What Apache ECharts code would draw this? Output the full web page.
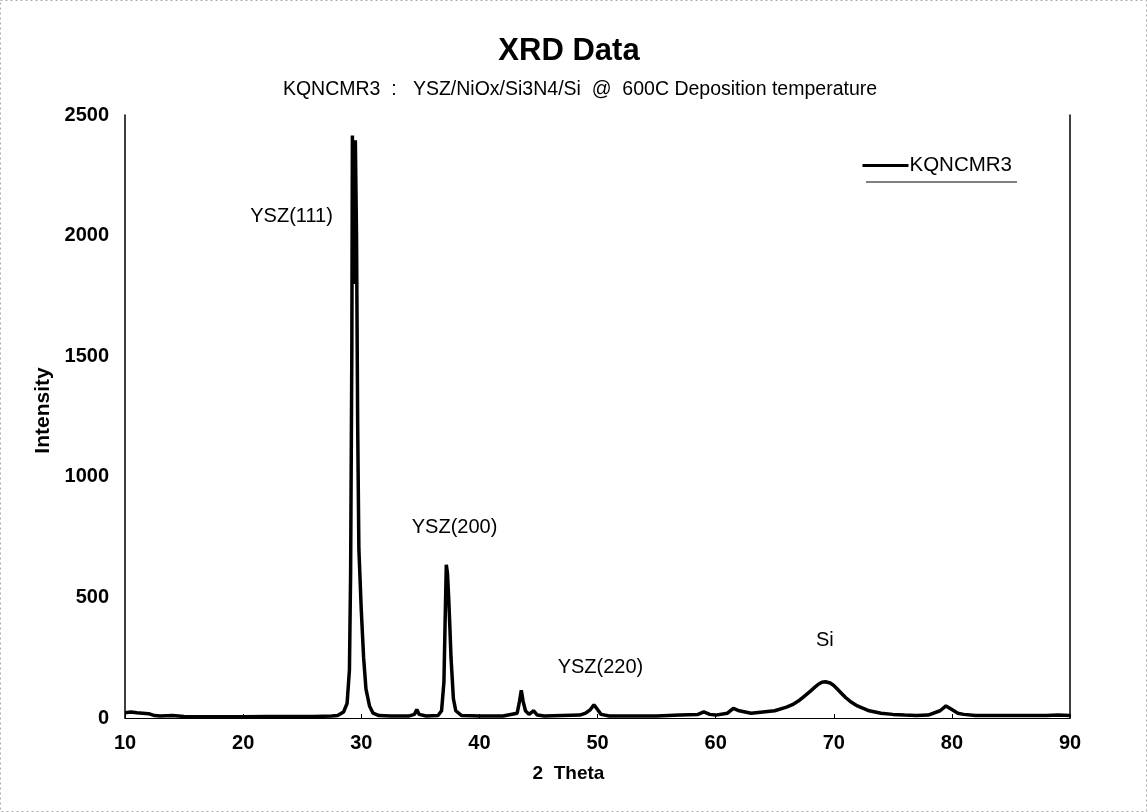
<!DOCTYPE html>
<html>
<head>
<meta charset="utf-8">
<script src="https://cdn.jsdelivr.net/npm/echarts@6/dist/echarts.min.js"></script>
<style>
html,body{margin:0;padding:0;background:#fff;}
#c{width:1147px;height:812px;}
</style>
</head>
<body>
<div id="c"></div>
<script>
// 2-theta positions (degrees)
const twoTheta = [
  10.0,10.5,11.0,11.5,12.0,12.5,13.0,14.0,15.0,16.0,18.0,20.0,22.0,24.0,26.0,27.5,28.0,28.5,28.8,
  29.0,29.1,29.2,29.25,29.35,29.45,29.5,29.6,29.7,29.8,30.0,30.2,30.4,30.7,31.0,31.5,32.5,34.0,34.5,34.7,34.9,35.5,
  36.5,36.8,37.0,37.1,37.2,37.3,37.4,37.5,37.6,37.8,38.0,38.5,40.0,42.0,43.2,43.4,43.55,43.7,43.9,44.2,44.6,44.9,45.5,
  47.0,48.5,49.0,49.4,49.7,50.0,50.3,51.0,53.0,55.0,57.0,58.5,59.0,59.5,60.0,61.0,61.5,62.0,63.0,64.0,65.0,66.0,66.5,67.0,67.5,
  68.0,68.4,68.7,69.0,69.3,69.7,70.0,70.3,70.6,71.0,71.5,72.0,72.5,73.0,74.0,75.0,76.0,77.0,78.0,79.0,79.5,80.0,80.5,81.0,82.0,84.0,86.0,88.0,89.0,90.0
];
// intensity (counts)
const intensity = [
  22,25,22,20,18,10,8,10,6,5,5,5,6,6,6,8,10,25,60,
  200,600,1500,2415,1800,2000,2395,2000,1200,700,450,250,120,50,20,10,8,8,15,35,15,8,
  10,30,150,400,635,600,500,380,250,80,30,10,8,8,20,70,115,70,30,15,30,12,8,
  10,12,20,35,55,35,15,8,8,8,12,15,25,15,12,20,40,30,20,25,30,45,55,70,90,
  110,128,140,148,150,145,135,120,105,85,65,50,40,30,20,15,12,10,12,30,50,35,20,15,10,10,10,10,12,10
];
// peak annotations: [label, 2theta, intensity]
const peakLabels = [
  ['YSZ(111)', 24.1, 2080],
  ['YSZ(200)', 37.9, 790],
  ['YSZ(220)', 50.25, 210],
  ['Si', 69.25, 320]
];
const xTicks = [10,20,30,40,50,60,70,80,90];
const yTicks = [0,500,1000,1500,2000,2500];
const seriesName = 'KQNCMR3';

const font = 'Liberation Sans, Arial, Helvetica, sans-serif';
const chart = echarts.init(document.getElementById('c'));
chart.setOption({
  backgroundColor: '#ffffff',
  animation: false,
  title: [
    {text: 'XRD Data', left: 564, textAlign:'center', top: 31, textStyle:{fontFamily:font,fontSize:31,fontWeight:'bold',color:'#000'}},
    {text: 'KQNCMR3  :   YSZ/NiOx/Si3N4/Si  @  600C Deposition temperature', left: 575, textAlign:'center', top: 75,
     textStyle:{fontFamily:font,fontSize:19.5,fontWeight:'normal',color:'#000'}}
  ],
  legend: {
    data: [seriesName], right: 130, top: 150, icon: 'rect', itemWidth: 46, itemHeight: 3, itemGap: 0,
    textStyle:{fontFamily:font,fontSize:20.5,color:'#000',padding:[0,0,0,-4]}
  },
  grid: {left: 125, right: 77, top: 115, bottom: 94},
  xAxis: {
    type: 'value', min: xTicks[0], max: xTicks[xTicks.length-1], interval: 10,
    name: '2  Theta', nameLocation: 'middle', nameGap: 46,
    nameTextStyle:{fontFamily:font,fontSize:19,fontWeight:'bold',color:'#000',padding:[0,58,0,0]},
    axisLine:{show:true,lineStyle:{color:'#000',width:1}},
    axisTick:{show:true,inside:true,length:4,lineStyle:{color:'#000'}},
    axisLabel:{fontFamily:font,fontSize:20,fontWeight:'bold',color:'#000',margin:15},
    splitLine:{show:false}
  },
  yAxis: [{
    type: 'value', min: yTicks[0], max: yTicks[yTicks.length-1], interval: 500,
    name: 'Intensity', nameLocation: 'middle', nameGap: 69, nameRotate: 90,
    nameTextStyle:{fontFamily:font,fontSize:21,fontWeight:'bold',color:'#000',padding:[0,0,0,12]},
    axisLine:{show:true,onZero:false,lineStyle:{color:'#000',width:1.5}},
    axisTick:{show:false},
    axisLabel:{fontFamily:font,fontSize:20,fontWeight:'bold',color:'#000',margin:16,formatter:v=>String(v)},
    splitLine:{show:false}
  },{
    type: 'value', position: 'right', min: 0, max: 2500, interval: 500,
    axisLine:{show:true,lineStyle:{color:'#000',width:1.5}},
    axisTick:{show:false}, axisLabel:{show:false}, splitLine:{show:false}
  }],
  series: [
    {
      name: seriesName, type: 'line', showSymbol: false, symbol: 'none',
      lineStyle:{color:'#000',width:3.5}, itemStyle:{color:'#000'},
      data: twoTheta.map((x,i)=>[x,intensity[i]])
    },
    {
      type: 'scatter', symbolSize: 0, silent: true, itemStyle:{opacity:1,color:'#000'},
      label:{show:true,position:'inside',formatter:p=>p.data[2],fontFamily:font,fontSize:20,color:'#000',opacity:1,textBorderWidth:0},
      data: peakLabels.map(p=>[p[1],p[2],p[0]])
    }
  ],
  graphic: [
    {type:'line', shape:{x1:866,y1:182,x2:1017,y2:182}, style:{stroke:'#000',lineWidth:1}},
    {type:'rect', shape:{x:0.5,y:0.5,width:1146,height:811}, style:{fill:'none',stroke:'#aaa',lineWidth:1,lineDash:[2,3]}}
  ]
});
</script>
</body>
</html>
